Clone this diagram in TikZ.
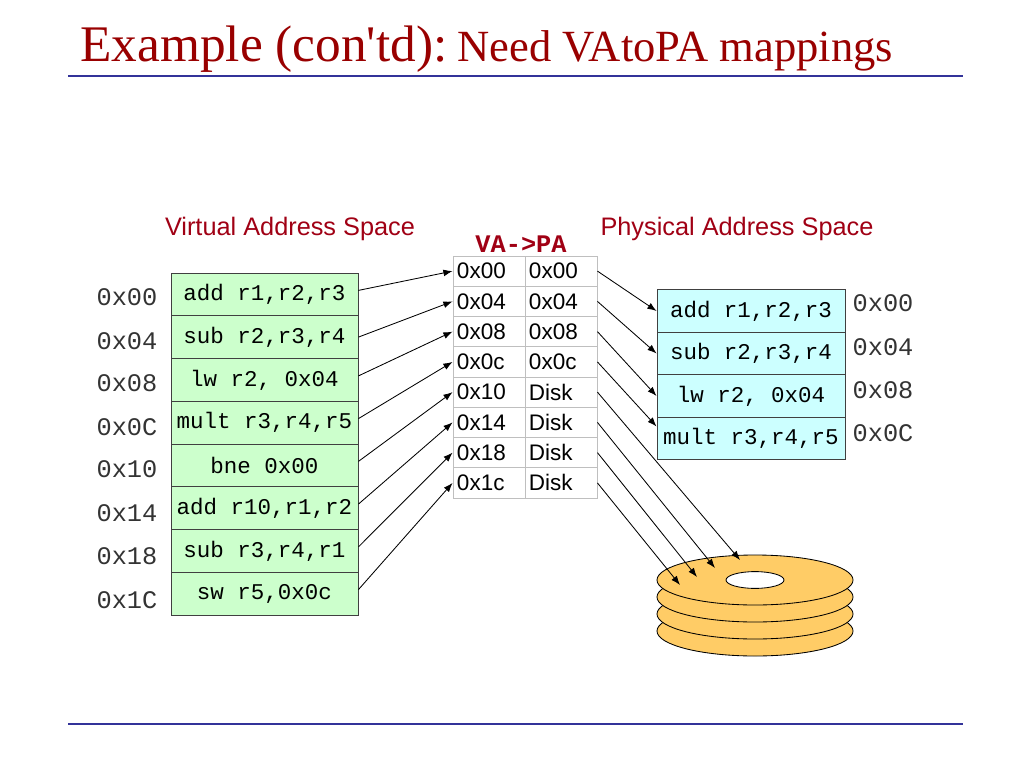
\documentclass[tikz,border=0pt]{standalone}
\usepackage{fontspec}
\setmainfont{Liberation Serif}
\setsansfont{Liberation Sans}
\setmonofont{Liberation Mono}
\newfontfamily\titlefont{Liberation Serif}[Ligatures=TeXOff]
\usepackage{tikz}
\usetikzlibrary{arrows.meta,positioning}
\definecolor{titlered}{RGB}{153,0,0}
\definecolor{lblred}{RGB}{160,0,20}
\definecolor{rulecol}{RGB}{51,51,153}
\definecolor{vgreen}{RGB}{204,255,204}
\definecolor{pcyan}{RGB}{204,255,255}
\definecolor{diskorange}{RGB}{255,204,102}

\begin{document}
\begin{tikzpicture}[x=0.025cm, y=-0.025cm, >={Latex[length=0.23cm,width=0.17cm]}, semithick,
		vrow/.style={shape=rectangle,draw=black!75,fill=vgreen,minimum width=4.675cm,minimum height=1.069cm,inner sep=0,font=\fontsize{16}{16}\selectfont\ttfamily},
		prow/.style={vrow,fill=pcyan,minimum width=4.7cm,minimum height=1.0625cm},
		cell/.style={shape=rectangle,draw=black!25,minimum width=1.8cm,minimum height=0.756cm,inner sep=0.1cm,text width=1.6cm,align=left,font=\fontsize{16}{16}\selectfont\sffamily},
		addr/.style={font=\fontsize{18}{18}\selectfont\ttfamily,text=black!80},
		caption/.style={font=\fontsize{18}{18}\selectfont\sffamily,text=lblred},
		rule/.style={draw=rulecol,line width=1pt},
		platter/.style={draw=black,fill=diskorange,line width=0.6pt}]
				\useasboundingbox (0,0) rectangle (1024,768);
				\node[anchor=base west,inner sep=0,text=titlered] (title) at (80,62) {\titlefont\fontsize{36.5}{40}\selectfont Example (con'td):\hspace{7pt}\fontsize{31.7}{34}\selectfont Need VAtoPA mappings};
				\draw[rule] (68,76) -- (963,76);
				\draw[rule] (68,724) -- (963,724);
				% virtual address space
				\node[caption] (vas) at (290,229) {Virtual Address Space};
				\node[vrow] (v0) at (264.5,294.4) {add r1,r2,r3};
				\node[vrow] (v1) at (264.5,337.1) {sub r2,r3,r4};
				\node[vrow] (v2) at (264.5,379.9) {lw r2, 0x04};
				\node[vrow] (v3) at (264.5,422.6) {mult r3,r4,r5};
				\node[vrow] (v4) at (264.5,465.4) {bne 0x00};
				\node[vrow] (v5) at (264.5,508.1) {add r10,r1,r2};
				\node[vrow] (v6) at (264.5,550.9) {sub r3,r4,r1};
				\node[vrow] (v7) at (264.5,593.6) {sw r5,0x0c};
				\node[addr] at (127,297) {0x00};
				\node[addr] at (127,341) {0x04};
				\node[addr] at (127,383) {0x08};
				\node[addr] at (127,427) {0x0C};
				\node[addr] at (127,469) {0x10};
				\node[addr] at (127,513) {0x14};
				\node[addr] at (127,556) {0x18};
				\node[addr] at (127,600) {0x1C};
				% page table
				\node[font=\fontsize{18}{18}\selectfont\ttfamily\bfseries,text=lblred] (vapa) at (521,244) {VA->PA};
				\node[cell] (a0) at (489,271.1) {0x00};
				\node[cell] (b0) at (561,271.1) {0x00};
				\node[cell] (a1) at (489,301.4) {0x04};
				\node[cell] (b1) at (561,301.4) {0x04};
				\node[cell] (a2) at (489,331.6) {0x08};
				\node[cell] (b2) at (561,331.6) {0x08};
				\node[cell] (a3) at (489,361.9) {0x0c};
				\node[cell] (b3) at (561,361.9) {0x0c};
				\node[cell] (a4) at (489,392.1) {0x10};
				\node[cell] (b4) at (561,392.1) {Disk};
				\node[cell] (a5) at (489,422.4) {0x14};
				\node[cell] (b5) at (561,422.4) {Disk};
				\node[cell] (a6) at (489,452.6) {0x18};
				\node[cell] (b6) at (561,452.6) {Disk};
				\node[cell] (a7) at (489,482.9) {0x1c};
				\node[cell] (b7) at (561,482.9) {Disk};
				% physical address space
				\node[caption] (pas) at (737,229) {Physical Address Space};
				\node[prow] (p0) at (751,311) {add r1,r2,r3};
				\node[prow] (p1) at (751,353.5) {sub r2,r3,r4};
				\node[prow] (p2) at (751,396) {lw r2, 0x04};
				\node[prow] (p3) at (751,438.5) {mult r3,r4,r5};
				\node[addr] at (883,303) {0x00};
				\node[addr] at (883,347) {0x04};
				\node[addr] at (883,390) {0x08};
				\node[addr] at (883,433) {0x0C};
				% disk
				\fill[platter] (755,631) ellipse [x radius=2.45cm, y radius=0.625cm];
				\fill[platter] (755,614) ellipse [x radius=2.45cm, y radius=0.625cm];
				\fill[platter] (755,597) ellipse [x radius=2.45cm, y radius=0.625cm];
				\fill[platter] (755,580) ellipse [x radius=2.45cm, y radius=0.625cm];
				\filldraw[draw=black,fill=white,line width=0.6pt] (755,580) ellipse [x radius=0.725cm, y radius=0.21cm];
				\coordinate (k0) at (740,560);
				\coordinate (k1) at (715,568);
				\coordinate (k2) at (697,577);
				\coordinate (k3) at (680,585);
				% mappings
				\draw[->] ([yshift=0.1cm]v0.east) to (a0.west);
				\draw[->] (v1.east) to (a1.west);
				\draw[->] ([yshift=0.1cm]v2.east) to (a2.west);
				\draw[->] ([yshift=0.1cm]v3.east) to (a3.west);
				\draw[->] ([yshift=0.1cm]v4.east) to (a4.west);
				\draw[->] ([yshift=0.1cm]v5.east) to (a5.west);
				\draw[->] ([yshift=0.1cm]v6.east) to (a6.west);
				\draw[->] ([yshift=0.1cm]v7.east) to (a7.west);
				\draw[->] (b0.east) to (p0.west);
				\draw[->] (b1.east) to (p1.west);
				\draw[->] (b2.east) to (p2.west);
				\draw[->] (b3.east) to ([yshift=0.3cm]p3.west);
				\draw[->] (b4.east) to (k0);
				\draw[->] (b5.east) to (k1);
				\draw[->] (b6.east) to (k2);
				\draw[->] (b7.east) to (k3);
			\end{tikzpicture}
\end{document}
